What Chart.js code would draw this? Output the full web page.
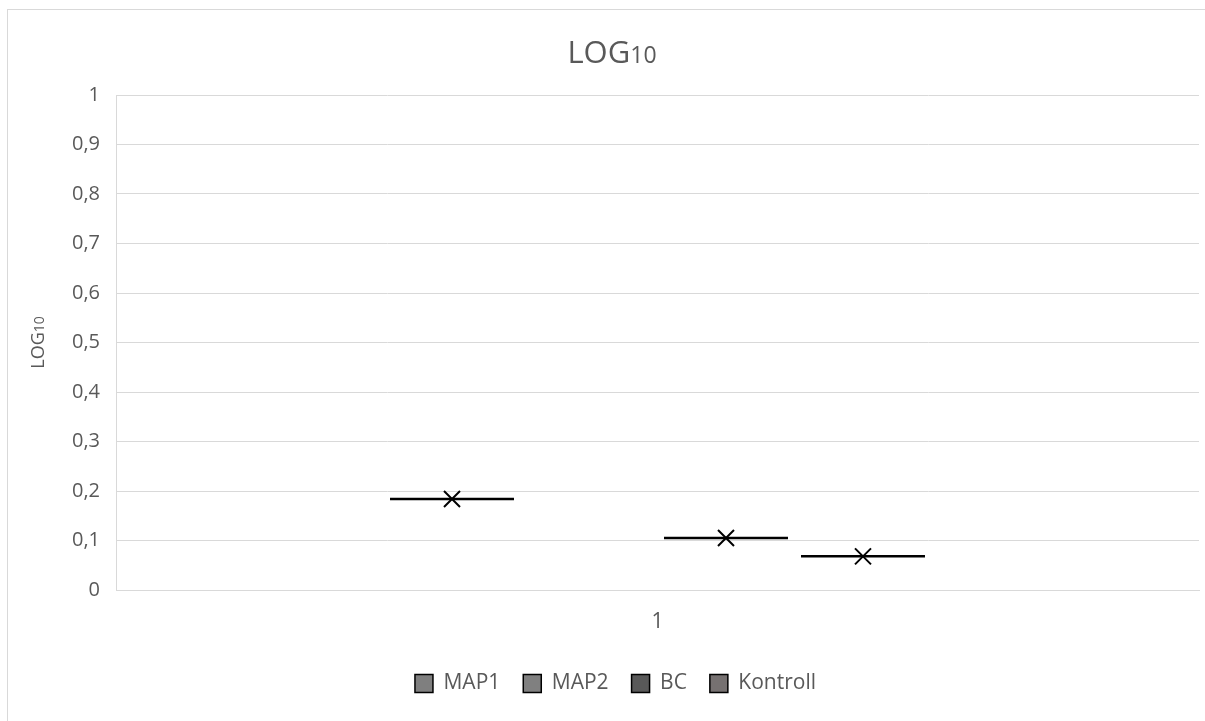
<!DOCTYPE html>
<html>
<head>
<meta charset="utf-8">
<title>LOG10</title>
<script src="https://cdn.jsdelivr.net/npm/chart.js@4"></script>
<style>
  html, body { margin: 0; background: #fff; overflow: hidden; }
  #wrap {
    position: absolute;
    left: 7px;
    top: 9px;
    width: 1208px;
    height: 750px;
    border: 1px solid #d9d9d9;
  }
</style>
</head>
<body>
<div id="wrap"><canvas id="chart"></canvas></div>
<script>
const categories = ['1'];
const seriesNames = ['MAP1', 'MAP2', 'BC', 'Kontroll'];
// one observation per series, so box, median and mean all sit on it
const seriesValues = [0.184, null, 0.105, 0.068];
const seriesColors = ['#7f7f7f', '#808080', '#595959', '#767171'];
const yMin = 0;
const yMax = 1;
const yStep = 0.1;

const FONT = '"Open Sans", "Noto Sans", sans-serif';
const TEXT = '#595959';
const GRID = '#d9d9d9';

// text with a smaller "10" after it, laid out on one baseline
function drawLogText(ctx, x, y, bigSize, smallSize) {
  ctx.font = `${bigSize}px ${FONT}`;
  const w1 = ctx.measureText('LOG').width;
  ctx.font = `${smallSize}px ${FONT}`;
  const w2 = ctx.measureText('10').width;
  let left = x - (w1 + w2) / 2;
  ctx.fillStyle = TEXT;
  ctx.textAlign = 'left';
  ctx.textBaseline = 'alphabetic';
  ctx.font = `${bigSize}px ${FONT}`;
  ctx.fillText('LOG', left, y);
  ctx.font = `${smallSize}px ${FONT}`;
  ctx.fillText('10', left + w1, y);
}

const titles = {
  id: 'titles',
  afterDraw(chart) {
    const { ctx, chartArea } = chart;
    ctx.save();
    drawLogText(ctx, chart.width / 2, 53, 31, 23);
    ctx.translate(30, (chartArea.top + chartArea.bottom) / 2);
    ctx.rotate(-Math.PI / 2);
    drawLogText(ctx, 0, 6, 18, 14);
    ctx.restore();
  }
};

// the legend sits centred on the whole frame, not on the padded layout box
const legendShift = {
  id: 'legendShift',
  afterLayout(chart) {
    chart.legend.left += 12;
    chart.legend.right += 12;
  }
};

// collapsed boxes: median line across the box width plus an x for the mean
const boxMarks = {
  id: 'boxMarks',
  afterDatasetsDraw(chart) {
    const { ctx, scales: { y } } = chart;
    ctx.save();
    ctx.strokeStyle = '#000';
    seriesValues.forEach((v, i) => {
      if (v == null) return;
      const bar = chart.getDatasetMeta(i).data[0];
      const py = y.getPixelForValue(v);
      const half = bar.width / 2;
      ctx.lineWidth = 2.5;
      ctx.beginPath();
      ctx.moveTo(bar.x - half, py);
      ctx.lineTo(bar.x + half, py);
      ctx.stroke();
      const s = 8;
      ctx.lineWidth = 2;
      ctx.beginPath();
      ctx.moveTo(bar.x - s, py - s);
      ctx.lineTo(bar.x + s, py + s);
      ctx.moveTo(bar.x - s, py + s);
      ctx.lineTo(bar.x + s, py - s);
      ctx.stroke();
    });
    ctx.restore();
  }
};

new Chart(document.getElementById('chart'), {
  type: 'bar',
  data: {
    labels: categories,
    datasets: seriesNames.map((name, i) => ({
      label: name,
      data: [seriesValues[i] == null ? null : [seriesValues[i], seriesValues[i]]],
      backgroundColor: seriesColors[i],
      borderColor: '#000',
      borderWidth: 1.5,
      categoryPercentage: 0.506,
      barPercentage: 0.905,
    })),
  },
  options: {
    responsive: true,
    maintainAspectRatio: false,
    animation: false,
    layout: { padding: { top: 85, right: 17, bottom: 56, left: 0 } },
    scales: {
      x: {
        grid: { display: false, drawTicks: false },
        border: { color: GRID, width: 1 },
        ticks: { color: TEXT, font: { family: FONT, size: 21 }, padding: 19 },
        afterFit(scale) { scale.height = 60; },
      },
      y: {
        min: yMin,
        max: yMax,
        grid: { color: GRID, lineWidth: 1, drawTicks: false },
        border: { color: GRID, width: 1 },
        ticks: {
          stepSize: yStep,
          color: TEXT,
          font: { family: FONT, size: 20 },
          padding: 16,
          callback: v => String(+v.toFixed(1)).replace('.', ','),
        },
        afterFit(scale) { scale.width = 108; },
      },
    },
    plugins: {
      title: { display: false },
      tooltip: { enabled: false },
      legend: {
        position: 'bottom',
        labels: {
          color: TEXT,
          font: { family: FONT, size: 21 },
          boxWidth: 18,
          boxHeight: 18,
          padding: 23,
        },
      },
    },
  },
  plugins: [titles, legendShift, boxMarks],
});
</script>
</body>
</html>
